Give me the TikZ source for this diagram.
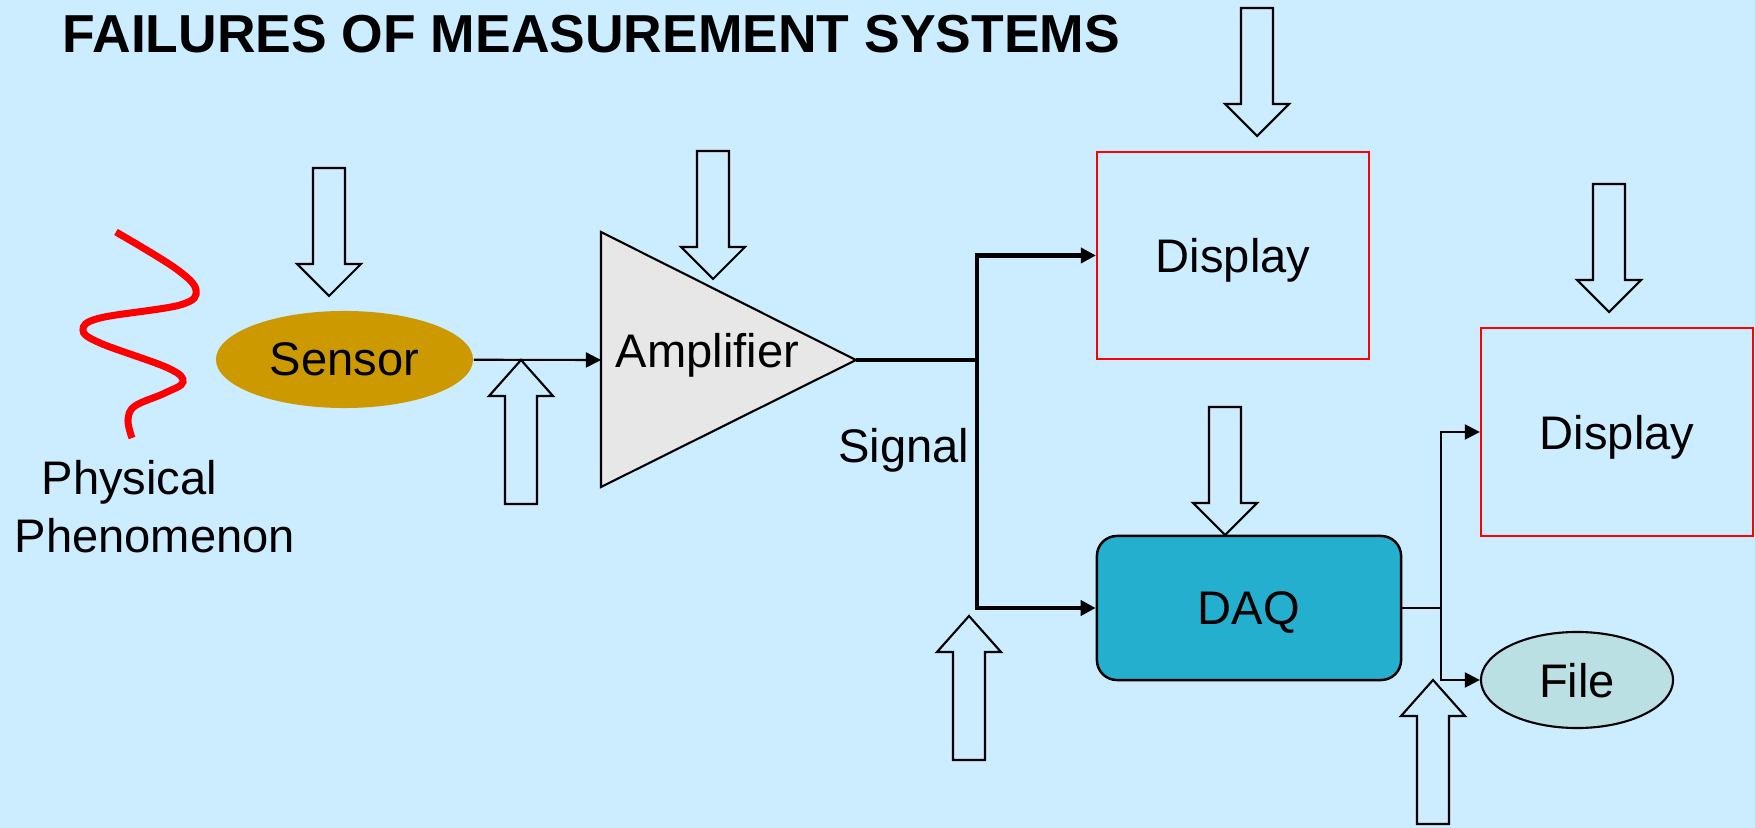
\documentclass[tikz,border=0pt]{standalone}
\usepackage{fontspec}
\setmainfont{Liberation Sans}
\usetikzlibrary{arrows.meta}
\usetikzlibrary{shapes.geometric}
\definecolor{slide}{RGB}{204,236,255}
\definecolor{sensorgold}{RGB}{204,153,0}
\definecolor{ampgray}{RGB}{231,231,231}
\definecolor{daqblue}{RGB}{37,175,207}
\definecolor{filecyan}{RGB}{187,224,227}
\tikzset{flow/.style = {-{Triangle[length=4.3pt, width=4.3pt]}, line width=0.6pt}}
\tikzset{bus/.style = {flow, line width=1.15pt}}
\tikzset{txt/.style = {inner sep=0pt, anchor=base west}}
\tikzset{screen/.style = {draw=red, line width=0.6pt, minimum width=2.72cm,
                          minimum height=2.07cm, text depth=0pt}}
\tikzset{hit/.style = {draw, fill=slide, line width=0.6pt, line join=miter}}

\begin{document}
\begin{tikzpicture}[x=0.01cm, y=-0.01cm, font=\fontsize{13.4}{16}\selectfont]
      \fill [slide] (0, 0) rectangle (1755, 828);
      \useasboundingbox (0, 0) rectangle (1755, 828);

      \node [txt, font=\fontsize{15.2}{18}\selectfont\bfseries] (title) at (62, 53)
            {FAILURES OF MEASUREMENT SYSTEMS};

      % the phenomenon
      \draw [red, line width=2pt] plot [smooth, tension=0.6] coordinates
            {(116, 232) (175, 268) (196, 290) (180, 305) (100, 318) (83, 330)
             (100, 343) (168, 368) (183, 382) (165, 393) (135, 406) (128, 420) (132, 438)};
      \node [txt] (phys) at (41, 495) {Physical};
      \node [txt] (phen) at (14, 553) {Phenomenon};

      \node [ellipse, fill=sensorgold, minimum width=2.57cm, minimum height=0.97cm,
             text depth=0pt] (sensor) at (344.5, 359.5) {Sensor};

      % amplifier
      \draw [fill=ampgray, line width=0.6pt] (601, 232) -- (856, 360) coordinate (amp out)
            -- (601, 487) -- cycle;
      \coordinate (amp in) at (601, 360);
      \node [txt] (amp) at (615, 368) {Amplifier};

      \node [screen] (disp top) at (1233, 255.5) {Display};
      \node [screen, minimum height=2.08cm] (disp right) at (1617, 432) {Display};
      \node [draw, fill=daqblue, line width=0.7pt, rounded corners=0.2cm, minimum width=3.04cm,
             minimum height=1.44cm, text depth=0pt] (daq) at (1249, 608) {DAQ};
      \node [ellipse, draw, fill=filecyan, line width=0.6pt, minimum width=1.92cm,
             minimum height=0.96cm, text depth=0pt] (file) at (1577, 680) {File};

      \draw [flow] (sensor) -- (amp in);

      \coordinate (split) at (977, 360);
      \draw [line width=1.15pt] (amp out) -- (split);
      \draw [bus] (split) |- (disp top);
      \draw [bus] (split) |- (daq);
      \node [txt, anchor=base east] (signal) at (970, 463) {Signal};

      \coordinate (split2) at (1441, 608);
      \draw [line width=0.6pt] (daq) -- (split2);
      \draw [flow] (split2) |- (disp right);
      \draw [flow] (split2) |- (file);

      % failure sources
      \foreach \x/\y in {329/296, 713/279, 1257/136, 1225/535, 1609/312}
        \draw [hit] (\x, \y) -- ++(32, -32) -- ++(-16, 0) -- ++(0, -96) -- ++(-32, 0)
              -- ++(0, 96) -- ++(-16, 0) -- cycle;
      \foreach \x/\y in {521/360, 969/616, 1433/680}
        \draw [hit] (\x, \y) -- ++(32, 36) -- ++(-16, 0) -- ++(0, 108) -- ++(-32, 0)
              -- ++(0, -108) -- ++(-16, 0) -- cycle;
    \end{tikzpicture}
\end{document}
